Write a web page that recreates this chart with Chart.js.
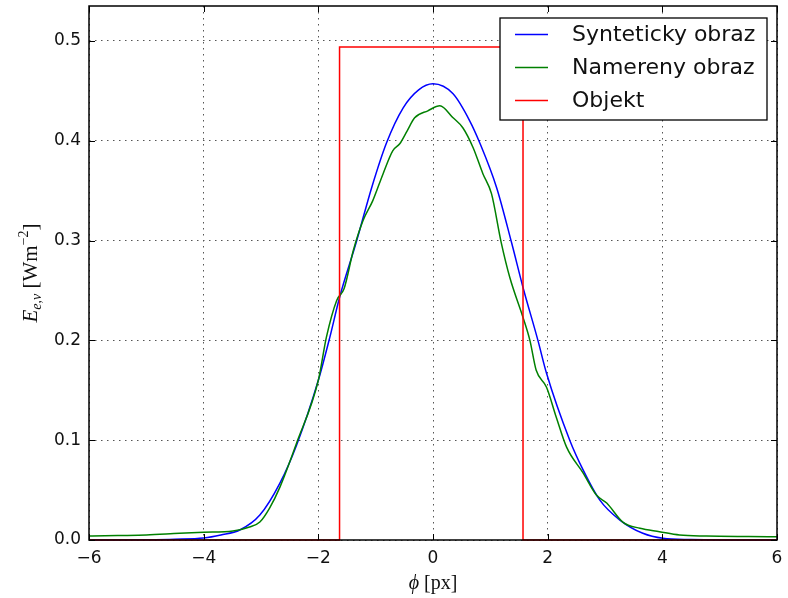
<!DOCTYPE html>
<html>
<head>
<meta charset="utf-8">
<script src="https://cdn.jsdelivr.net/npm/chart.js@4/dist/chart.umd.min.js"></script>
<style>
  body { margin: 0; background: #fff; }
  canvas { display: block; }
</style>
</head>
<body>
<canvas id="chart" width="788" height="598"></canvas>
<script>
// tick values
const xTicks = [-6, -4, -2, 0, 2, 4, 6];
const yTicks = [0, 0.1, 0.2, 0.3, 0.4, 0.5];

const seriesNames = ["Synteticky obraz", "Namereny obraz", "Objekt"];

// synthetic image (blue)
const synthX = [-6, -5, -4.5, -4, -3.7, -3.37, -3.02, -2.67, -2.38, -2.0, -1.8, -1.63, -1.34, -1.07, -0.81, -0.52, -0.25, 0,
  0.35, 0.64, 0.815, 1.11, 1.37, 1.57, 1.83, 1.98, 2.385, 2.62, 2.91, 3.26, 3.66, 4.01, 4.5, 5, 6];
const synthY = [0, 0.0003, 0.0008, 0.002, 0.005, 0.010, 0.025, 0.057, 0.095, 0.16, 0.203, 0.243, 0.298, 0.353, 0.398, 0.433, 0.451, 0.457,
  0.447, 0.42, 0.398, 0.353, 0.298, 0.253, 0.20, 0.167, 0.10, 0.07, 0.04, 0.02, 0.0067, 0.0017, 0.0005, 0.0001, 0];

// measured image (green)
const measX = [-6, -5.5, -5, -4.42, -4, -3.49, -3.2, -3.02, -2.85, -2.67, -2.38, -2.0, -1.86, -1.68, -1.55, -1.39, -1.22, -1.05,
  -0.87, -0.7, -0.58, -0.45, -0.32, -0.09, 0.12, 0.35, 0.52, 0.7, 0.87, 1.02, 1.19, 1.34, 1.57, 1.69, 1.8, 1.98, 2.15, 2.33,
  2.62, 2.85, 3.03, 3.31, 3.61, 3.95, 4.3, 4.77, 5.5, 6];
const measY = [0.004, 0.0045, 0.005, 0.0067, 0.0077, 0.009, 0.013, 0.018, 0.032, 0.053, 0.097, 0.16, 0.203, 0.24, 0.252, 0.29, 0.32, 0.34,
  0.367, 0.39, 0.397, 0.41, 0.423, 0.43, 0.435, 0.423, 0.413, 0.393, 0.367, 0.347, 0.298, 0.263, 0.223, 0.2, 0.17, 0.153, 0.123, 0.093,
  0.067, 0.045, 0.037, 0.018, 0.0117, 0.0083, 0.005, 0.004, 0.0035, 0.0033];

// object (red box)
const objX = [-6, -1.63, -1.63, 1.57, 1.57, 6];
const objY = [0, 0, 0.494, 0.494, 0, 0];

const colors = ["#0000ff", "#008000", "#ff0000"];

const toPoints = (xs, ys) => xs.map((x, i) => ({ x: x, y: ys[i] }));

const frame = {
  id: "frame",
  afterDraw(chart) {
    const ctx = chart.ctx;
    const a = chart.chartArea;
    const sx = chart.scales.x, sy = chart.scales.y;
    ctx.save();

    // inward ticks on all sides
    ctx.strokeStyle = "#000";
    ctx.lineWidth = 1;
    ctx.beginPath();
    xTicks.forEach((v) => {
      const px = Math.round(sx.getPixelForValue(v)) + 0.5;
      ctx.moveTo(px, a.bottom); ctx.lineTo(px, a.bottom - 6);
      ctx.moveTo(px, a.top); ctx.lineTo(px, a.top + 6);
    });
    yTicks.forEach((v) => {
      const py = Math.round(sy.getPixelForValue(v)) + 0.5;
      ctx.moveTo(a.left, py); ctx.lineTo(a.left + 6, py);
      ctx.moveTo(a.right, py); ctx.lineTo(a.right - 6, py);
    });
    ctx.stroke();

    // frame
    ctx.lineWidth = 1.5;
    ctx.strokeRect(a.left, a.top, a.right - a.left, a.bottom - a.top);

    // legend
    const bx = a.right - 277, by = a.top + 12, bw = 267, bh = 102;
    ctx.fillStyle = "#fff";
    ctx.fillRect(bx, by, bw, bh);
    ctx.lineWidth = 1.3;
    ctx.strokeStyle = "#000";
    ctx.strokeRect(bx, by, bw, bh);
    ctx.font = "22px 'DejaVu Sans'";
    ctx.textBaseline = "middle";
    ctx.textAlign = "left";
    chart.data.datasets.forEach((ds, i) => {
      const ry = by + 16.5 + i * 33;
      ctx.strokeStyle = ds.borderColor;
      ctx.lineWidth = 1.5;
      ctx.beginPath();
      ctx.moveTo(bx + 15, ry); ctx.lineTo(bx + 48, ry);
      ctx.stroke();
      ctx.fillStyle = "#111";
      ctx.fillText(ds.label, bx + 72, ry + 1);
    });

    // x axis title: phi [px]
    ctx.fillStyle = "#111";
    ctx.textBaseline = "alphabetic";
    const xa = "italic 20px 'Liberation Serif'", xb = "20px 'Liberation Serif'";
    ctx.font = xa; const w1 = ctx.measureText("\u03d5").width;
    ctx.font = xb; const w2 = ctx.measureText(" [px]").width;
    let cx = (a.left + a.right) / 2 - (w1 + w2) / 2;
    const ty = 589;
    ctx.font = xa; ctx.fillText("\u03d5", cx, ty);
    ctx.font = xb; ctx.fillText(" [px]", cx + w1, ty);

    // y axis title: E_{e,nu} [Wm^-2]
    const parts = [
      { t: "E", f: "italic 21px 'Liberation Serif'", dy: 0 },
      { t: "e,\u03bd", f: "italic 14px 'Liberation Serif'", dy: 4 },
      { t: " [Wm", f: "21px 'Liberation Serif'", dy: 0 },
      { t: "\u22122", f: "14px 'Liberation Serif'", dy: -9 },
      { t: "]", f: "21px 'Liberation Serif'", dy: 0 },
    ];
    let total = 0;
    parts.forEach((p) => { ctx.font = p.f; p.w = ctx.measureText(p.t).width; total += p.w; });
    ctx.translate(37, (a.top + a.bottom) / 2);
    ctx.rotate(-Math.PI / 2);
    let px = -total / 2;
    parts.forEach((p) => { ctx.font = p.f; ctx.fillText(p.t, px, p.dy); px += p.w; });

    ctx.restore();
  },
};

new Chart(document.getElementById("chart"), {
  type: "line",
  data: {
    datasets: [
      { label: seriesNames[0], data: toPoints(synthX, synthY), borderColor: colors[0], order: 3, cubicInterpolationMode: "monotone" },
      { label: seriesNames[1], data: toPoints(measX, measY), borderColor: colors[1], order: 2, cubicInterpolationMode: "monotone" },
      { label: seriesNames[2], data: toPoints(objX, objY), borderColor: colors[2], order: 1, tension: 0 },
    ],
  },
  options: {
    responsive: false,
    animation: false,
    devicePixelRatio: 1,
    layout: { padding: { top: 6, right: 11, left: 0, bottom: 0 } },
    elements: {
      point: { radius: 0 },
      line: { borderWidth: 1.5, fill: false },
    },
    datasets: { line: { clip: 4 } },
    scales: {
      x: {
        type: "linear",
        min: -6,
        max: 6,
        afterBuildTicks: (s) => { s.ticks = xTicks.map((v) => ({ value: v })); },
        afterFit: (s) => { s.height = 58; s.paddingLeft = 0; s.paddingRight = 0; },
        grid: { color: "#555", lineWidth: 1, drawTicks: false },
        border: { display: false, dash: [1.5, 4.5] },
        ticks: {
          padding: 8,
          color: "#111",
          font: { family: "'DejaVu Sans'", size: 17 },
          callback: (v) => (v < 0 ? "\u2212" + Math.abs(v) : String(v)),
          maxRotation: 0,
        },
      },
      y: {
        type: "linear",
        min: 0,
        max: 0.535,
        afterBuildTicks: (s) => { s.ticks = yTicks.map((v) => ({ value: v })); },
        afterFit: (s) => { s.width = 89; s.paddingTop = 0; s.paddingBottom = 0; },
        grid: { color: "#555", lineWidth: 1, drawTicks: false },
        border: { display: false, dash: [1.5, 4.5] },
        ticks: {
          padding: 8,
          color: "#111",
          font: { family: "'DejaVu Sans'", size: 17 },
          callback: (v) => v.toFixed(1),
        },
      },
    },
    plugins: {
      legend: { display: false },
      tooltip: { enabled: false },
    },
  },
  plugins: [frame],
});
</script>
</body>
</html>
